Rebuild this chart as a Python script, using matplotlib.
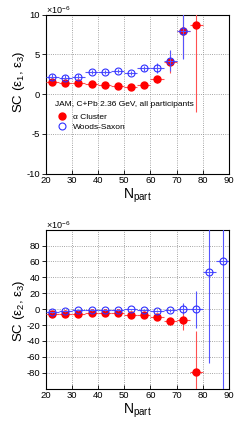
import numpy as np
import matplotlib.pyplot as plt
from matplotlib.lines import Line2D

plt.rcParams['font.family'] = ['Liberation Sans', 'DejaVu Sans']
plt.rcParams['mathtext.fontset'] = 'custom'
plt.rcParams['mathtext.rm'] = 'Liberation Sans'
plt.rcParams['mathtext.it'] = 'Liberation Sans'
plt.rcParams['axes.unicode_minus'] = False

# N_part bin centres
npart = np.arange(22.5, 90, 5.0)
xerr = 2.5

# SC(eps1, eps3), units of 1e-6
sc13_alpha = [1.5, 1.4, 1.35, 1.25, 1.1, 1.0, 0.95, 1.1, 1.85, 4.0, 8.0, 8.7]
sc13_alpha_err = [0.3, 0.3, 0.3, 0.3, 0.3, 0.3, 0.3, 0.35, 0.45, 1.4, 3.4, 10.9]
sc13_ws = [2.2, 2.05, 2.2, 2.8, 2.8, 2.9, 2.65, 3.25, 3.3, 4.2, 7.95]
sc13_ws_err = [0.3, 0.3, 0.3, 0.3, 0.3, 0.3, 0.3, 0.35, 0.6, 1.3, 3.5]

# SC(eps2, eps3), units of 1e-6
sc23_alpha = [-6.1, -6.5, -6.1, -4.9, -4.9, -4.5, -7.0, -7.3, -10.2, -14.3, -13.0, -79.0]
sc23_alpha_err = [1.0, 1.0, 1.0, 1.0, 1.0, 1.0, 1.0, 1.2, 2.0, 3.0, 13.5, 51.0]
sc23_ws = [-4.1, -2.9, -1.2, -0.8, -1.2, -0.8, -0.4, -1.2, -2.0, -1.6, 0.8, -0.4, 46.5, 60.4]
sc23_ws_err = [1.0, 1.0, 1.0, 1.0, 1.0, 1.0, 1.0, 1.2, 1.5, 2.0, 7.5, 23.0, 114.0, 200.0]

red = '#ff0000'
blue = '#3030ff'
ms = 5.0

fig = plt.figure(figsize=(2.44, 4.30), dpi=100)
ax1 = fig.add_axes([0.187, 0.596, 0.752, 0.370])
ax2 = fig.add_axes([0.187, 0.096, 0.752, 0.370])


def draw(ax, ya, ea, yw, ew):
    na = len(ya)
    nw = len(yw)
    ax.errorbar(npart[:na], ya, xerr=xerr, yerr=ea, fmt='o', color=red, ecolor='#ff5050',
                elinewidth=0.8, ms=ms, mec=red, mfc=red, capsize=0, zorder=3)
    ax.errorbar(npart[:nw], yw, xerr=xerr, yerr=ew, fmt='o', color=blue, ecolor='#5555ff',
                elinewidth=0.8, ms=ms, mec=blue, mfc='none', mew=0.8, capsize=0, zorder=4)
    ax.set_xlim(20, 90)
    ax.set_xticks(np.arange(20, 91, 10))
    ax.grid(True, linestyle=':', color='#888888', linewidth=0.6)
    ax.tick_params(axis='both', labelsize=6.8, length=3, width=0.6, pad=1)
    ax.tick_params(axis='x', direction='in', pad=2)
    ax.tick_params(axis='y', direction='out')
    for s in ax.spines.values():
        s.set_linewidth(0.8)
    ax.set_xlabel('N$_{\\rm part}$', fontsize=10, labelpad=1)
    ax.text(0.0, 0.99, '×10$^{-6}$', transform=ax.transAxes, fontsize=6.5,
            ha='left', va='bottom')


draw(ax1, sc13_alpha, sc13_alpha_err, sc13_ws, sc13_ws_err)
ax1.set_ylim(-10, 10)
ax1.set_yticks([-10, -5, 0, 5, 10])
ax1.set_ylabel('SC (ε$_1$, ε$_3$)', fontsize=9.5)
ax1.yaxis.set_label_coords(-0.10, 0.58)

ax1.text(0.05, 0.435, 'JAM, C+Pb 2.36 GeV, all participants', transform=ax1.transAxes,
         fontsize=6.0, ha='left', va='center')
handles = [Line2D([], [], ls='none', marker='o', ms=ms, color=red),
           Line2D([], [], ls='none', marker='o', ms=ms, mec=blue, mfc='none', mew=0.8)]
ax1.legend(handles, ['α Cluster', 'Woods-Saxon'], loc='upper left',
           bbox_to_anchor=(0.03, 0.42), frameon=False, fontsize=6.0,
           handlelength=1.2, handletextpad=0.7, labelspacing=0.3, borderpad=0.2)

draw(ax2, sc23_alpha, sc23_alpha_err, sc23_ws, sc23_ws_err)
ax2.set_ylim(-100, 100)
ax2.set_yticks(np.arange(-80, 81, 20))
ax2.set_ylabel('SC (ε$_2$, ε$_3$)', fontsize=9.5)
ax2.yaxis.set_label_coords(-0.10, 0.49)

fig.savefig('out.png', dpi=100)
